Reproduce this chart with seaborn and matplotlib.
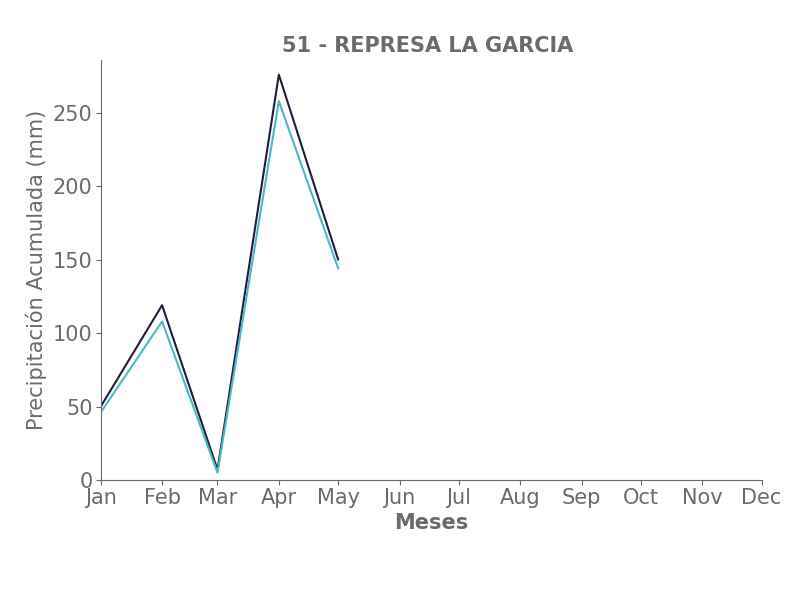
import matplotlib
matplotlib.use("Agg")
import matplotlib.pyplot as plt
import matplotlib.dates as mdates
import numpy as np
import pandas as pd
import seaborn as sns

# datos
meses = pd.date_range("2023-01-01", "2023-05-01", freq="MS")
serie_1 = [50, 119, 7, 276, 150]
serie_2 = [46, 108, 5, 258, 144]

gris = "#6b6b6b"
sns.set_style("ticks")
plt.rcParams['font.family'] = ['DejaVu Sans']

df = pd.DataFrame({"fecha": list(meses) * 2,
                   "valor": serie_1 + serie_2,
                   "serie": ["a"] * 5 + ["b"] * 5})

fig, ax = plt.subplots(figsize=(8.06, 6), dpi=100)
sns.lineplot(data=df, x="fecha", y="valor", hue="serie",
             palette=["#1e1e3c", "#4bb8c4"], linewidth=1.5, legend=False, ax=ax)

ax.set_xlim(pd.Timestamp("2023-01-01"), pd.Timestamp("2023-12-01"))
ax.set_ylim(0, 286)
ax.xaxis.set_major_locator(mdates.MonthLocator())
ax.xaxis.set_major_formatter(mdates.DateFormatter("%b"))
ax.set_yticks([0, 50, 100, 150, 200, 250])

ax.set_title("51 - REPRESA LA GARCIA", fontsize=15, fontweight="bold", color=gris, x=0.494)
ax.set_xlabel("Meses", fontsize=15, fontweight="bold", color=gris, labelpad=3.5)
ax.set_ylabel("Precipitación Acumulada (mm)", fontsize=15, color=gris)
ax.tick_params(colors=gris, labelsize=15, pad=2.5)
for s in ["left", "bottom"]:
    ax.spines[s].set_color(gris)
sns.despine(ax=ax)

plt.subplots_adjust(left=0.125, right=0.945, top=0.9, bottom=0.2)
fig.savefig("out.png", dpi=100)
